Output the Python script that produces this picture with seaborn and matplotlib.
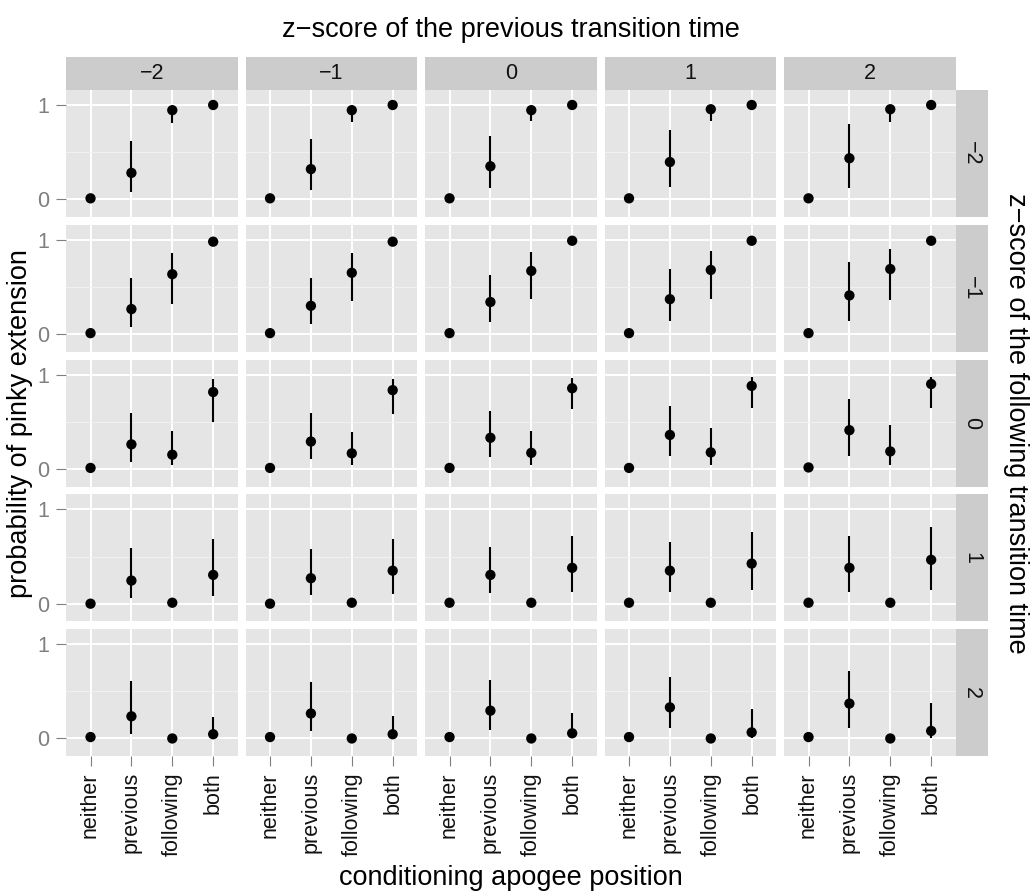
import pandas as pd
import matplotlib.pyplot as plt
import seaborn as sns
from matplotlib.patches import Rectangle

# facet levels and categories
levels = ['\u22122', '\u22121', '0', '1', '2']
positions = ['neither', 'previous', 'following', 'both']

# estimates / lower / upper, one list per previous-z column, per following-z row
# following z = -2
est_fm2 = [[0.01, 0.28, 0.945, 1.0], [0.01, 0.32, 0.945, 1.0], [0.01, 0.35, 0.945, 1.0],
           [0.01, 0.395, 0.955, 1.0], [0.01, 0.435, 0.955, 1.0]]
lo_fm2 = [[0.0, 0.075, 0.805, 1.0], [0.0, 0.10, 0.82, 1.0], [0.0, 0.12, 0.83, 1.0],
          [0.0, 0.125, 0.83, 1.0], [0.0, 0.12, 0.82, 1.0]]
hi_fm2 = [[0.02, 0.62, 0.96, 1.0], [0.02, 0.635, 0.96, 1.0], [0.02, 0.67, 0.96, 1.0],
          [0.02, 0.73, 0.97, 1.0], [0.04, 0.795, 0.97, 1.0]]
# following z = -1
est_fm1 = [[0.01, 0.265, 0.635, 0.98], [0.01, 0.30, 0.65, 0.98], [0.01, 0.34, 0.67, 0.99],
           [0.01, 0.37, 0.68, 0.99], [0.01, 0.41, 0.69, 0.99]]
lo_fm1 = [[0.0, 0.07, 0.32, 0.955], [0.0, 0.105, 0.355, 0.97], [0.0, 0.125, 0.375, 0.98],
          [0.0, 0.135, 0.375, 0.98], [0.0, 0.135, 0.36, 0.98]]
hi_fm1 = [[0.02, 0.60, 0.86, 0.99], [0.02, 0.60, 0.86, 0.99], [0.02, 0.63, 0.87, 1.0],
          [0.02, 0.69, 0.88, 1.0], [0.02, 0.76, 0.90, 1.0]]
# following z = 0
est_f0 = [[0.01, 0.26, 0.15, 0.815], [0.01, 0.29, 0.165, 0.835], [0.01, 0.33, 0.17, 0.855],
          [0.01, 0.36, 0.175, 0.88], [0.015, 0.41, 0.185, 0.90]]
lo_f0 = [[0.0, 0.07, 0.04, 0.50], [0.0, 0.105, 0.045, 0.58], [0.0, 0.13, 0.045, 0.63],
         [0.0, 0.135, 0.045, 0.65], [0.0, 0.135, 0.045, 0.65]]
hi_f0 = [[0.02, 0.59, 0.40, 0.95], [0.02, 0.59, 0.39, 0.95], [0.02, 0.615, 0.40, 0.96],
         [0.02, 0.665, 0.43, 0.97], [0.03, 0.74, 0.47, 0.975]]
# following z = 1
est_f1 = [[0.0, 0.245, 0.01, 0.305], [0.0, 0.27, 0.01, 0.35], [0.01, 0.305, 0.01, 0.38],
          [0.01, 0.35, 0.01, 0.425], [0.01, 0.38, 0.01, 0.465]]
lo_f1 = [[0.0, 0.06, 0.0, 0.08], [0.0, 0.09, 0.0, 0.105], [0.0, 0.115, 0.0, 0.125],
         [0.0, 0.125, 0.0, 0.14], [0.0, 0.125, 0.0, 0.14]]
hi_f1 = [[0.01, 0.59, 0.03, 0.69], [0.01, 0.585, 0.03, 0.69], [0.02, 0.60, 0.03, 0.72],
         [0.02, 0.65, 0.04, 0.765], [0.02, 0.72, 0.05, 0.815]]
# following z = 2
est_f2 = [[0.015, 0.235, 0.0, 0.045], [0.015, 0.265, 0.0, 0.045], [0.015, 0.295, 0.0, 0.055],
          [0.015, 0.33, 0.0, 0.065], [0.015, 0.37, 0.0, 0.08]]
lo_f2 = [[0.0, 0.05, 0.0, 0.005], [0.0, 0.075, 0.0, 0.005], [0.0, 0.095, 0.0, 0.01],
         [0.0, 0.11, 0.0, 0.01], [0.0, 0.11, 0.0, 0.01]]
hi_f2 = [[0.02, 0.61, 0.01, 0.23], [0.02, 0.60, 0.01, 0.235], [0.02, 0.62, 0.01, 0.265],
         [0.02, 0.655, 0.01, 0.31], [0.02, 0.715, 0.01, 0.38]]

est_rows = [est_fm2, est_fm1, est_f0, est_f1, est_f2]
lo_rows = [lo_fm2, lo_fm1, lo_f0, lo_f1, lo_f2]
hi_rows = [hi_fm2, hi_fm1, hi_f0, hi_f1, hi_f2]

rows = []
for i, fz in enumerate(levels):
    for j, pz in enumerate(levels):
        for k, pos in enumerate(positions):
            rows.append({'follow': fz, 'prev': pz, 'position': pos,
                         'est': est_rows[i][j][k], 'lo': lo_rows[i][j][k], 'hi': hi_rows[i][j][k]})
df = pd.DataFrame(rows)

sns.set_theme(style='darkgrid', rc={
    'axes.facecolor': '#E5E5E5',
    'grid.color': 'white',
    'grid.linewidth': 1.4,
    'axes.edgecolor': '#E5E5E5',
})
plt.rcParams['font.family'] = ['Liberation Sans', 'DejaVu Sans']

W, H = 1032, 892
panel_w, panel_h = 171.7, 127.0


def draw_panel(data, **kws):
    ax = plt.gca()
    ax.vlines(data['position'], data['lo'], data['hi'], color='black', lw=1.5, zorder=3)
    sns.scatterplot(data=data, x='position', y='est', color='black', s=55,
                    edgecolor='none', ax=ax, zorder=4)


g = sns.FacetGrid(df, row='follow', col='prev', row_order=levels, col_order=levels,
                  height=1.27, aspect=panel_w / panel_h, despine=False,
                  sharex=True, sharey=True)
g.map_dataframe(draw_panel)
g.set_titles('')
g.set_axis_labels('', '')

fig = g.figure
fig.set_size_inches(W / 100, H / 100)
fig.subplots_adjust(left=66 / W, right=955.7 / W, top=1 - 90 / H, bottom=1 - 756.2 / H,
                    wspace=7.8 / panel_w, hspace=7.8 / panel_h)

strip_h = 33 / panel_h
strip_w = 32 / panel_w
for i in range(5):
    for j in range(5):
        ax = g.axes[i, j]
        ax.set_xlim(-0.6, 3.6)
        ax.set_ylim(-0.188, 1.159)
        ax.set_yticks([0, 1])
        ax.set_yticks([0.5], minor=True)
        ax.grid(which='minor', axis='y', color='#F2F2F2', lw=0.7)
        ax.grid(which='major', color='white', lw=1.4)
        ax.set_axisbelow(True)
        for s in ax.spines.values():
            s.set_visible(False)
        ax.tick_params(axis='both', which='major', direction='out', length=0,
                       width=0.8, color='#7F7F7F')
        ax.tick_params(axis='y', which='minor', length=0)
        if j == 0:
            ax.tick_params(axis='y', left=True, length=6.9, pad=5, labelsize=15.5,
                           labelcolor='#7F7F7F')
        if i == 4:
            ax.tick_params(axis='x', bottom=True, length=6.9, pad=4.5, labelsize=15.5,
                           labelrotation=90, labelcolor='#111111')
        if i == 0:
            ax.add_patch(Rectangle((0, 1), 1, strip_h, transform=ax.transAxes,
                                   facecolor='#CCCCCC', edgecolor='none', clip_on=False))
            ax.text(0.5, 1 + strip_h / 2, levels[j], transform=ax.transAxes,
                    ha='center', va='center', fontsize=15.5, color='#111111')
        if j == 4:
            ax.add_patch(Rectangle((1, 0), strip_w, 1, transform=ax.transAxes,
                                   facecolor='#CCCCCC', edgecolor='none', clip_on=False))
            ax.text(1 + strip_w / 2, 0.5, levels[i], transform=ax.transAxes,
                    ha='center', va='center', rotation=-90, fontsize=15.5, color='#111111')

cx = (66 + 955.7) / 2 / W
cy = 1 - (90 + 756.2) / 2 / H
fig.text(cx, 1 - 30 / H, 'z\u2212score of the previous transition time',
         ha='center', va='center', fontsize=19.5, color='black')
fig.text(cx, 1 - 878 / H, 'conditioning apogee position', ha='center', va='center',
         fontsize=19.5, color='black')
fig.text(20 / W, cy, 'probability of pinky extension', ha='center', va='center',
         rotation=90, fontsize=19.5, color='black')
fig.text(1016 / W, cy, 'z\u2212score of the following transition time', ha='center',
         va='center', rotation=-90, fontsize=19.5, color='black')

fig.savefig('out.png', dpi=100)
